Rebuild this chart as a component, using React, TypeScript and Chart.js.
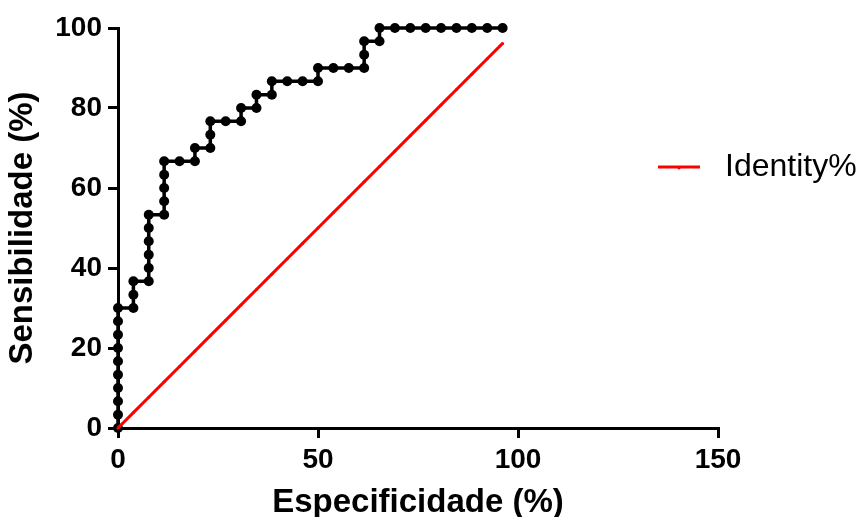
import React, { useEffect, useRef } from "react";
import { Chart, registerables } from "chart.js";

Chart.register(...registerables);

// ROC curve points (x = 100 - specificity %, y = sensitivity %)
const rocX = [
  0, 0, 0, 0, 0, 0, 0, 0, 0, 0,
  3.85, 3.85, 3.85,
  7.69, 7.69, 7.69, 7.69, 7.69, 7.69,
  11.54, 11.54, 11.54, 11.54, 11.54,
  15.38,
  19.23, 19.23,
  23.08, 23.08, 23.08,
  26.92,
  30.77, 30.77,
  34.62, 34.62,
  38.46, 38.46,
  42.31,
  46.15,
  50, 50,
  53.85,
  57.69,
  61.54, 61.54, 61.54,
  65.38, 65.38,
  69.23, 73.08, 76.92, 80.77, 84.62, 88.46, 92.31, 96.15,
];
const rocY = [
  0, 3.33, 6.67, 10, 13.33, 16.67, 20, 23.33, 26.67, 30,
  30, 33.33, 36.67,
  36.67, 40, 43.33, 46.67, 50, 53.33,
  53.33, 56.67, 60, 63.33, 66.67,
  66.67,
  66.67, 70,
  70, 73.33, 76.67,
  76.67,
  76.67, 80,
  80, 83.33,
  83.33, 86.67,
  86.67,
  86.67,
  86.67, 90,
  90,
  90,
  90, 93.33, 96.67,
  96.67, 100,
  100, 100, 100, 100, 100, 100, 100, 100,
];

// Identity line
const identityX = [
  0, 3.85, 7.69, 11.54, 15.38, 19.23, 23.08, 26.92, 30.77, 34.62, 38.46, 42.31, 46.15,
  50, 53.85, 57.69, 61.54, 65.38, 69.23, 73.08, 76.92, 80.77, 84.62, 88.46, 92.31, 96.15,
];
const identityY = [
  0, 3.85, 7.69, 11.54, 15.38, 19.23, 23.08, 26.92, 30.77, 34.62, 38.46, 42.31, 46.15,
  50, 53.85, 57.69, 61.54, 65.38, 69.23, 73.08, 76.92, 80.77, 84.62, 88.46, 92.31, 96.15,
];

const xTicks = [0, 50, 100, 150];
const yTicks = [0, 20, 40, 60, 80, 100];
const xTitle = "Especificidade (%)";
const yTitle = "Sensibilidade (%)";
const identityLabel = "Identity%";

const FONT = "'Liberation Sans', Arial, Helvetica, sans-serif";

const legendPlugin = {
  id: "customLegend",
  afterDraw(chart: any) {
    const ctx = chart.ctx;
    const ds = chart.data.datasets[0];
    const y = 167;
    ctx.save();
    ctx.strokeStyle = ds.borderColor;
    ctx.lineWidth = 3;
    ctx.beginPath();
    ctx.moveTo(658, y);
    ctx.lineTo(700, y);
    ctx.stroke();
    ctx.fillStyle = ds.borderColor;
    ctx.beginPath();
    ctx.arc(679, y + 1, 1.5, 0, Math.PI * 2);
    ctx.fill();
    ctx.fillStyle = "#000";
    ctx.font = `32px ${FONT}`;
    ctx.textBaseline = "middle";
    ctx.textAlign = "left";
    ctx.fillText(ds.label, 725, y);
    ctx.restore();
  },
};

export default function App() {
  const ref = useRef<HTMLCanvasElement | null>(null);

  useEffect(() => {
    if (!ref.current) return;
    const chart = new Chart(ref.current, {
      type: "line",
      data: {
        datasets: [
          {
            label: identityLabel,
            data: identityX.map((x, i) => ({ x, y: identityY[i] })),
            borderColor: "#ff0000",
            backgroundColor: "#ff0000",
            borderWidth: 3,
            pointRadius: 1.5,
            pointBorderWidth: 0,
            tension: 0,
            clip: false,
          },
          {
            label: "ROC",
            data: rocX.map((x, i) => ({ x, y: rocY[i] })),
            borderColor: "#000",
            backgroundColor: "#000",
            borderWidth: 3.5,
            pointRadius: 5,
            pointBorderWidth: 0,
            tension: 0,
            clip: false,
          },
        ],
      },
      options: {
        animation: false,
        responsive: false,
        layout: { padding: { top: 28, left: 0, right: 144, bottom: 0 } },
        plugins: {
          legend: { display: false },
          tooltip: { enabled: false },
        },
        scales: {
          x: {
            type: "linear",
            min: 0,
            max: 150,
            afterFit: (s: any) => {
              s.height = 89;
            },
            afterBuildTicks: (s: any) => {
              s.ticks = xTicks.map((v) => ({ value: v }));
            },
            grid: {
              display: true,
              drawOnChartArea: false,
              drawTicks: true,
              tickLength: 10,
              color: "#000",
              lineWidth: 3,
            },
            border: { display: true, color: "#000", width: 3 },
            ticks: {
              color: "#000",
              padding: 5,
              font: { family: FONT, size: 28, weight: "bold" },
            },
            title: {
              display: true,
              text: xTitle,
              color: "#000",
              font: { family: FONT, size: 33, weight: "bold", lineHeight: 1 },
              padding: { top: 0, bottom: -2 },
            },
          },
          y: {
            type: "linear",
            min: 0,
            max: 100,
            afterFit: (s: any) => {
              s.width = 118;
            },
            afterBuildTicks: (s: any) => {
              s.ticks = yTicks.map((v) => ({ value: v }));
            },
            grid: {
              display: true,
              drawOnChartArea: false,
              drawTicks: true,
              tickLength: 10,
              color: "#000",
              lineWidth: 3,
            },
            border: { display: true, color: "#000", width: 3 },
            ticks: {
              color: "#000",
              padding: 6,
              font: { family: FONT, size: 28, weight: "bold" },
            },
            title: {
              display: true,
              text: yTitle,
              color: "#000",
              font: { family: FONT, size: 33, weight: "bold", lineHeight: 1 },
              padding: { top: 6, bottom: 0 },
            },
          },
        },
      },
      plugins: [legendPlugin],
    });
    return () => chart.destroy();
  }, []);

  return (
    <div style={{ position: "fixed", left: 0, top: 0, width: 862, height: 517, background: "#fff" }}>
      <canvas ref={ref} width={862} height={517} style={{ width: 862, height: 517 }} />
    </div>
  );
}
